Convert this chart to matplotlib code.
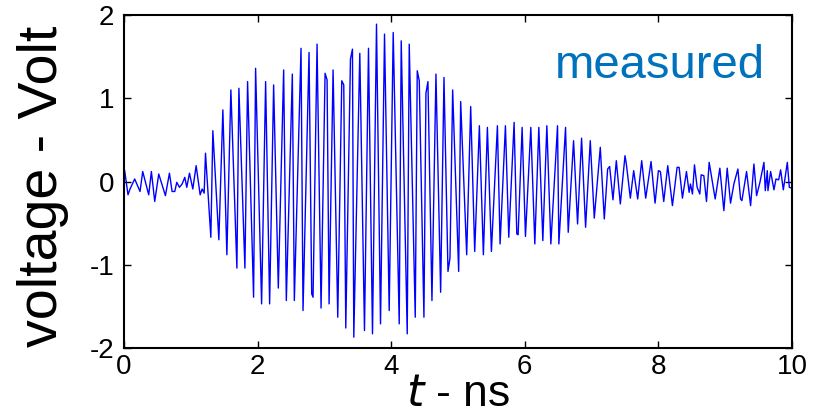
import matplotlib
matplotlib.use("Agg")
import matplotlib.pyplot as plt

# time (ns) and voltage (V) of the measured trace
t_ns = [0.01, 0.06, 0.09, 0.16, 0.24, 0.28, 0.37, 0.41, 0.46, 0.52, 0.62, 0.68, 0.72, 0.76,
        0.79, 0.83, 0.87, 0.91, 0.94, 0.98, 1.03, 1.08, 1.14, 1.17, 1.20, 1.22, 1.30, 1.33,
        1.42, 1.48, 1.54, 1.60, 1.69, 1.72, 1.81, 1.85, 1.94, 1.97, 2.06, 2.12, 2.18, 2.24,
        2.31, 2.39, 2.43, 2.52, 2.55, 2.65, 2.68, 2.77, 2.81, 2.83, 2.89, 2.95, 3.01, 3.04,
        3.07, 3.13, 3.20, 3.26, 3.29, 3.32, 3.39, 3.42, 3.44, 3.53, 3.60, 3.66, 3.72, 3.78,
        3.84, 3.90, 3.97, 4.03, 4.12, 4.15, 4.24, 4.27, 4.36, 4.39, 4.42, 4.49, 4.52, 4.55,
        4.61, 4.67, 4.74, 4.79, 4.85, 4.88, 4.92, 5.01, 5.04, 5.13, 5.19, 5.25, 5.32, 5.38,
        5.44, 5.50, 5.59, 5.63, 5.71, 5.76, 5.84, 5.88, 5.90, 5.96, 6.01, 6.09, 6.15, 6.21,
        6.27, 6.33, 6.39, 6.49, 6.51, 6.61, 6.65, 6.73, 6.79, 6.85, 6.91, 6.98, 7.04, 7.13,
        7.19, 7.24, 7.27, 7.32, 7.37, 7.43, 7.50, 7.52, 7.58, 7.63, 7.69, 7.75, 7.81, 7.89,
        7.95, 8.00, 8.03, 8.08, 8.14, 8.21, 8.28, 8.31, 8.36, 8.42, 8.46, 8.48, 8.51, 8.54,
        8.58, 8.62, 8.64, 8.68, 8.72, 8.76, 8.85, 8.92, 8.98, 9.03, 9.08, 9.13, 9.19, 9.23,
        9.25, 9.32, 9.38, 9.43, 9.47, 9.52, 9.58, 9.60, 9.63, 9.64, 9.68, 9.73, 9.76, 9.80,
        9.83, 9.87, 9.93, 9.96, 10.00]
voltage = [0.13, -0.16, -0.09, 0.03, -0.12, 0.12, -0.16, 0.12, -0.24, 0.09, -0.17, 0.10, -0.12, -0.12,
           -0.01, -0.07, -0.03, 0.05, -0.07, 0.10, -0.09, 0.19, -0.16, -0.09, -0.14, 0.34, -0.67, 0.61,
           -0.70, 0.86, -0.88, 1.10, -1.04, 1.12, -1.04, 1.20, -1.39, 1.36, -1.47, 1.20, -1.47, 1.16,
           -1.28, 1.34, -1.43, 1.29, -1.43, 1.60, -1.55, 1.55, -1.35, -1.39, 1.65, -1.52, 1.30, 1.22,
           -1.47, 1.34, -1.63, 1.21, 1.16, -1.76, 1.47, 1.59, -1.87, 1.54, -1.79, 1.60, -1.83, 1.89,
           -1.71, 1.77, -1.55, 1.79, -1.71, 1.69, -1.83, 1.65, -1.63, 1.33, 1.21, -1.63, 1.06, 1.20,
           -1.43, 1.29, -1.33, 1.25, -1.08, -0.92, 1.10, -1.08, 0.96, -0.88, 0.90, -0.84, 0.67, -0.88,
           0.65, -0.84, 0.67, -0.75, 0.67, -0.67, 0.71, -0.63, -0.64, 0.65, -0.66, 0.65, -0.75, 0.65,
           -0.71, 0.67, -0.75, 0.67, -0.75, 0.65, -0.61, 0.49, -0.51, 0.52, -0.55, 0.49, -0.44, 0.41,
           -0.45, 0.15, 0.18, -0.22, 0.25, -0.27, 0.31, 0.21, -0.20, 0.13, -0.21, 0.25, -0.20, 0.24,
           -0.26, 0.13, 0.12, -0.24, 0.19, -0.29, 0.17, 0.17, -0.20, 0.12, -0.13, -0.03, -0.15, 0.20,
           -0.07, -0.15, 0.08, 0.07, -0.24, 0.23, -0.21, 0.16, -0.35, 0.16, -0.26, -0.03, 0.15, -0.21,
           -0.23, 0.12, -0.29, 0.21, -0.17, -0.01, 0.23, -0.11, 0.13, -0.11, 0.12, -0.10, 0.03, 0.02,
           0.14, -0.10, 0.23, -0.07, -0.08]

x_ticks = [0, 2, 4, 6, 8, 10]
x_tick_labels = ["0", "2", "4", "6", "8", "10"]
y_ticks = [-2, -1, 0, 1, 2]
y_tick_labels = ["-2", "-1", "0", "1", "2"]

tick_font = ["Liberation Sans", "DejaVu Sans"]
label_font = ["Liberation Sans", "DejaVu Sans"]

fig = plt.figure(figsize=(8.14, 4.17), dpi=100)
ax = fig.add_axes([124 / 814, 1 - 348 / 417, (792 - 124) / 814, (348 - 15) / 417])

ax.plot(t_ns, voltage, color=(0, 0, 1), lw=1.0)

ax.set_xlim(0, 10)
ax.set_ylim(-2, 2)
ax.set_xticks(x_ticks)
ax.set_xticklabels(x_tick_labels, fontfamily=tick_font, fontsize=20)
ax.set_yticks(y_ticks)
ax.set_yticklabels(y_tick_labels, fontfamily=tick_font, fontsize=20)
ax.tick_params(direction="in", length=5, width=1.0, top=True, right=True, pad=4)
ax.tick_params(axis="y", pad=7)
for sp in ax.spines.values():
    sp.set_linewidth(1.5)

ax.set_xlabel("$\\it{t}$ - ns", fontfamily=label_font, fontsize=32, labelpad=-4)
ax.set_ylabel("voltage - Volt", fontfamily=label_font, fontsize=40)
ax.yaxis.set_label_coords(-0.083, 0.485)

ax.text(6.45, 1.24, "measured", color="#0072BD", fontfamily=label_font, fontsize=34,
        ha="left", va="baseline")

fig.savefig("out.png", dpi=100)
